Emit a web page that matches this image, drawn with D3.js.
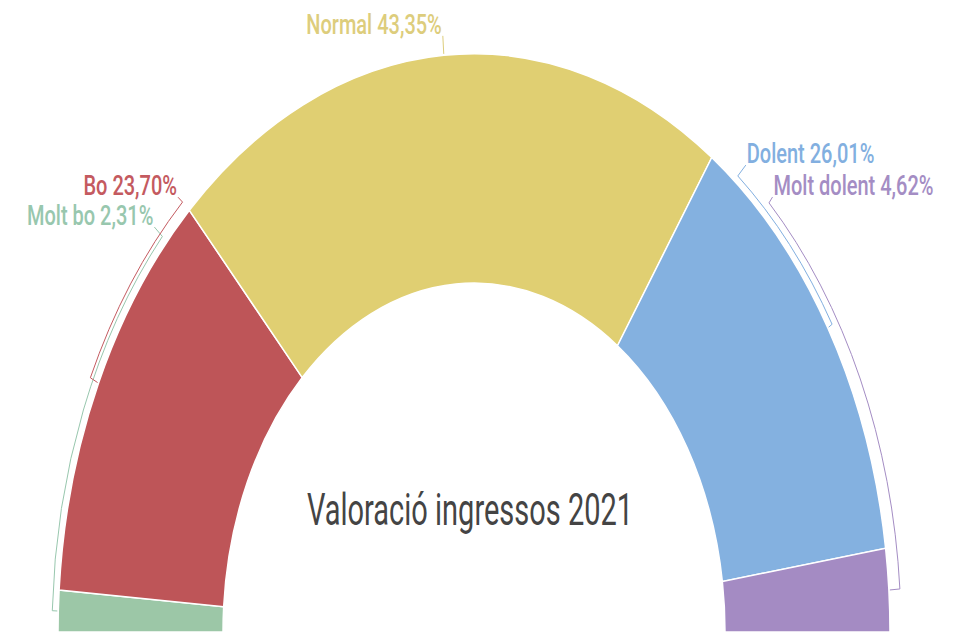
<!DOCTYPE html>
<html>
<head>
<meta charset="utf-8">
<script src="https://cdn.jsdelivr.net/npm/d3@7"></script>
<style>
  html, body { margin: 0; padding: 0; background: #fff; }
  svg { display: block; font-family: Roboto, "Noto Sans", sans-serif; }
</style>
</head>
<body>
<div id="chart"></div>
<script>
// data
const categories = ["Molt bo", "Bo", "Normal", "Dolent", "Molt dolent"];
const values = [2.31, 23.70, 43.35, 26.01, 4.62];
const colors = ["#9cc7a7", "#be5558", "#e0cf72", "#84b1e0", "#a48bc3"];
const labelColors = ["#98c7ae", "#c45a60", "#ddcd7c", "#82afe0", "#a48dc4"];
const title = "Valoració ingressos 2021";

const width = 958, height = 633;
const cx = 474, cy = 632, SY = 1.39;
const rOuter = 416, rInner = 251;

// leader layout: guide arc radius, angle where it leaves the arc (deg), text offset
const leaders = [
    { r: 422, a0: -47.6, side: "left", dx: -9, dy: -8.3 },
    { r: 425, a0: -43.3, side: "left", dx: -5.5, dy: -5 },
    { r: 430, a0: null, side: "top", dx: -1, dy: -1.5 },
    { r: 421, a0: 38.8, side: "right", dx: 9, dy: -9.3 },
    { r: 427, a0: 43.7, side: "right", dx: 4.5, dy: -5.7 }
];

const svg = d3.select("#chart").append("svg")
    .attr("width", width)
    .attr("height", height);

const g = svg.append("g")
    .attr("transform", "translate(" + cx + "," + cy + ") scale(1," + SY + ")");

const pie = d3.pie()
    .sort(null)
    .value(d => d)
    .startAngle(-Math.PI / 2)
    .endAngle(Math.PI / 2);

const arcs = pie(values);

const arc = d3.arc()
    .innerRadius(rInner)
    .outerRadius(rOuter);

g.selectAll("path.slice")
    .data(arcs)
    .join("path")
    .attr("class", "slice")
    .attr("d", arc)
    .attr("fill", (d, i) => colors[i])
    .attr("stroke", "#fff")
    .attr("stroke-width", 1.5)
    .attr("vector-effect", "non-scaling-stroke");

// point on circle for pie angle a (0 = 12 o'clock, clockwise)
const pt = (r, a) => [r * Math.sin(a), -r * Math.cos(a)];
const rad = deg => deg * Math.PI / 180;
const fmt = v => v.toFixed(2).replace(".", ",") + "%";

arcs.forEach((d, i) => {
    const L = leaders[i];
    const mid = (d.startAngle + d.endAngle) / 2;
    const p = d3.path();
    let tx, ty, anchor;
    if (L.side === "top") {
        const a = pt(rOuter + 1, mid), b = pt(L.r, mid);
        p.moveTo(a[0], a[1]);
        p.lineTo(b[0], b[1]);
        tx = b[0] + L.dx; ty = b[1] + L.dy; anchor = "end";
    } else {
        const a0 = rad(L.a0);
        const s = pt(L.r, a0);
        tx = s[0] + L.dx; ty = s[1] + L.dy;
        anchor = L.side === "left" ? "end" : "start";
        p.moveTo(tx + (L.side === "left" ? 1 : -1), ty + 1.5);
        p.lineTo(s[0], s[1]);
        p.arc(0, 0, L.r, a0 - Math.PI / 2, mid - Math.PI / 2, L.side === "left");
        const e = pt(rOuter + 1, mid);
        p.lineTo(e[0], e[1]);
    }
    g.append("path")
        .attr("d", p.toString())
        .attr("fill", "none")
        .attr("stroke", labelColors[i])
        .attr("stroke-width", 1)
        .attr("vector-effect", "non-scaling-stroke");

    g.append("text")
        .attr("x", tx)
        .attr("y", ty)
        .attr("text-anchor", anchor)
        .attr("fill", labelColors[i])
        .style("font-size", "20px")
        .style("font-weight", 500)
        .text(categories[i] + " " + fmt(values[i]));
});

svg.append("text")
    .attr("transform", "translate(" + (cx - 4) + ",525) scale(1,1.55)")
    .attr("text-anchor", "middle")
    .attr("fill", "#444")
    .style("font-size", "29px")
    .text(title);
</script>
</body>
</html>
